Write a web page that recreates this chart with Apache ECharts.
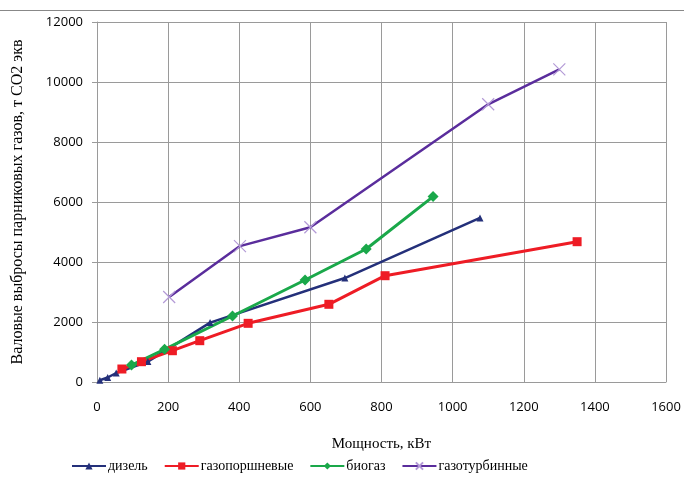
<!DOCTYPE html>
<html><head><meta charset="utf-8">
<script src="https://cdn.jsdelivr.net/npm/echarts@6/dist/echarts.min.js"></script>
<style>html,body{margin:0;padding:0;background:#fff}#c{width:684px;height:478px}</style>
</head><body><div id="c"></div>
<script>
const seriesNames = ['дизель','газопоршневые','биогаз','газотурбинные'];
const diesel = [[8,60],[30,150],[54,300],[143,680],[318,1980],[697,3465],[1077,5470]];
const gasPiston = [[70,433],[125,677],[212,1043],[289,1377],[425,1956],[652,2590],[810,3543],[1350,4677]];
const biogas = [[97,567],[190,1090],[381,2200],[585,3400],[757,4433],[945,6180]];
const gasTurbine = [[203,2833],[402,4530],[600,5157],[1100,9257],[1300,10423]];
const xTitle = 'Мощность, кВт';
const yTitle = 'Валовые выбросы парниковых газов, т СО2 экв';

const chart = echarts.init(document.getElementById('c'));
const grey = '#9a9a9a';
chart.setOption({
  animation:false,
  backgroundColor:'#fff',
  graphic:[{type:'line',shape:{x1:0,y1:10.5,x2:684,y2:10.5},style:{stroke:'#888',lineWidth:1}}],
  grid:{left:97,right:18,top:22,bottom:96,containLabel:false,outerBoundsMode:'none'},
  legend:{bottom:0,left:66,itemWidth:34,itemHeight:9,itemGap:16,
    textStyle:{fontFamily:'Liberation Serif',fontSize:14,color:'#000',padding:[0,0,0,-3]},
    data:seriesNames},
  xAxis:{type:'value',min:0,max:1600,interval:200,
    name:xTitle,nameLocation:'middle',nameGap:55,
    nameTextStyle:{fontFamily:'Liberation Serif',fontSize:15,color:'#000'},
    axisLine:{show:true,lineStyle:{color:grey}},
    axisTick:{show:false},
    axisLabel:{fontFamily:'Open Sans',fontSize:13,color:'#000',margin:19,formatter:v=>String(v)},
    splitLine:{show:true,lineStyle:{color:grey,width:1}}},
  yAxis:{type:'value',min:0,max:12000,interval:2000,
    name:yTitle,nameLocation:'middle',nameGap:71,
    nameTextStyle:{fontFamily:'Liberation Serif',fontSize:16,color:'#000'},
    axisLine:{show:true,lineStyle:{color:grey}},
    axisTick:{show:true,length:5,lineStyle:{color:grey}},
    axisLabel:{fontFamily:'Open Sans',fontSize:13,color:'#000',margin:14,formatter:v=>String(v)},
    splitLine:{show:true,lineStyle:{color:grey,width:1}}},
  series:[
    {name:seriesNames[0],type:'line',data:diesel,symbol:'triangle',symbolSize:7,
     lineStyle:{color:'#24307a',width:2.5},itemStyle:{color:'#24307a'}},
    {name:seriesNames[1],type:'line',data:gasPiston,symbol:'rect',symbolSize:9,
     lineStyle:{color:'#ee1c25',width:3},itemStyle:{color:'#ee1c25'}},
    {name:seriesNames[2],type:'line',data:biogas,symbol:'diamond',symbolSize:11,
     lineStyle:{color:'#1aa84a',width:3},itemStyle:{color:'#1aa84a'}},
    {name:seriesNames[3],type:'line',data:gasTurbine,
     symbol:'path://M0,0L10,10M10,0L0,10',symbolSize:12,
     lineStyle:{color:'#5a2d9c',width:2.5},
     itemStyle:{color:'none',borderColor:'#b39ad6',borderWidth:1.2}}
  ]
});
</script></body></html>
